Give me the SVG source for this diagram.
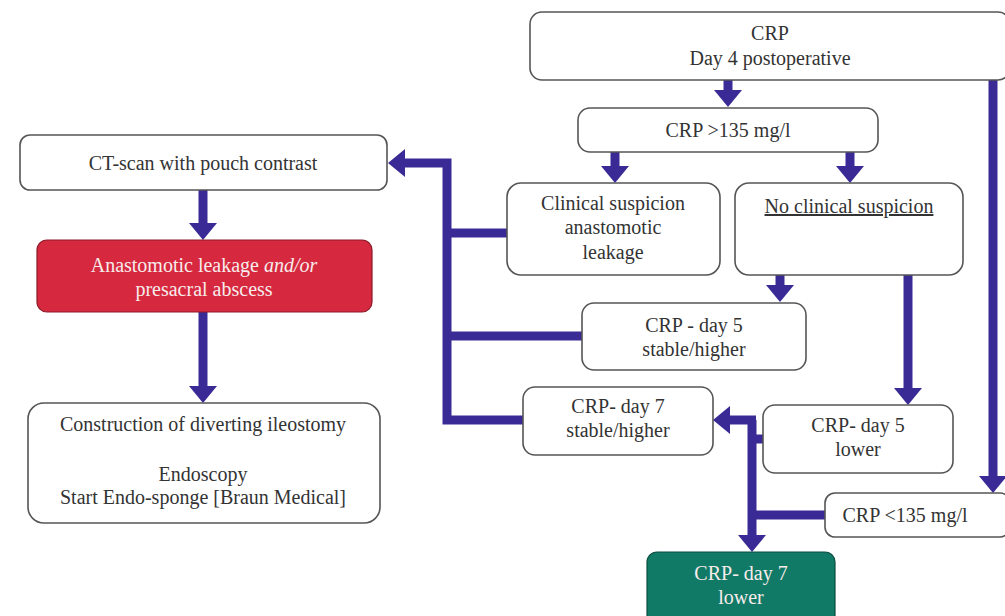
<svg xmlns="http://www.w3.org/2000/svg" width="1005" height="616" viewBox="0 0 1005 616">
<style>
.box{fill:#fff;stroke:#555;stroke-width:1.6}
.red{fill:#d6283e;stroke:#8a1a28;stroke-width:1.2}
.green{fill:#117a66;stroke:#0b4f42;stroke-width:1.2}
.t{font-size:20px;fill:#333;text-anchor:middle}
.w{fill:#f7ecec}
.c{fill:none;stroke:#3a2a96;stroke-width:9}
</style>
<defs>
<marker id="ah" viewBox="0 0 17 28" refX="0" refY="14" markerWidth="17" markerHeight="28" orient="auto" markerUnits="userSpaceOnUse">
<path d="M0 0 L17 14 L0 28 Z" fill="#3a2a96"/>
</marker>
</defs>
<rect width="1005" height="616" fill="#fff"/>
<g id="connectors">
<path class="c" d="M728 80 V90" marker-end="url(#ah)"/>
<path class="c" d="M615 152 V166" marker-end="url(#ah)"/>
<path class="c" d="M850 152 V166" marker-end="url(#ah)"/>
<path class="c" d="M993 80 V476" marker-end="url(#ah)"/>
<path class="c" d="M780 275 V285" marker-end="url(#ah)"/>
<path class="c" d="M908 275 V388" marker-end="url(#ah)"/>
<path class="c" d="M524 420 H447 V163 H405" marker-end="url(#ah)"/>
<path class="c" d="M507 233 H447"/>
<path class="c" d="M582 336 H447"/>
<path class="c" d="M203 190 V223" marker-end="url(#ah)"/>
<path class="c" d="M203 312 V386" marker-end="url(#ah)"/>
<path class="c" d="M763 439 H752"/>
<path class="c" d="M752 420 V535" marker-end="url(#ah)"/>
<path class="c" d="M756 420 H730" marker-end="url(#ah)"/>
<path class="c" d="M825 515 H752"/>
</g>
<g font-family="Liberation Serif, Times New Roman, serif">
<g id="n-day4">
<rect class="box" x="530" y="12" width="480" height="68" rx="12"/>
<text class="t" x="770" y="40">CRP</text>
<text class="t" x="770" y="65">Day 4 postoperative</text>
</g>
<g id="n-crp-high">
<rect class="box" x="578" y="108" width="300" height="44" rx="12"/>
<text class="t" x="728" y="137">CRP &gt;135 mg/l</text>
</g>
<g id="n-clinical">
<rect class="box" x="507" y="183" width="213" height="92" rx="14"/>
<text class="t" x="613" y="210">Clinical suspicion</text>
<text class="t" x="613" y="234">anastomotic</text>
<text class="t" x="613" y="259">leakage</text>
</g>
<g id="n-noclinical">
<rect class="box" x="735" y="183" width="228" height="92" rx="14"/>
<text class="t" x="849" y="213" text-decoration="underline">No clinical suspicion</text>
</g>
<g id="n-ct">
<rect class="box" x="20" y="135" width="367" height="55" rx="10"/>
<text class="t" x="203" y="170">CT-scan with pouch contrast</text>
</g>
<g id="n-leak">
<rect class="red" x="37" y="240" width="335" height="72" rx="10"/>
<text class="t w" x="204" y="272">Anastomotic leakage <tspan font-style="italic">and/or</tspan></text>
<text class="t w" x="204" y="296">presacral abscess</text>
</g>
<g id="n-construction">
<rect class="box" x="28" y="403" width="352" height="120" rx="16"/>
<text class="t" x="203" y="431">Construction of diverting ileostomy</text>
<text class="t" x="203" y="481">Endoscopy</text>
<text class="t" x="203" y="504">Start Endo-sponge [Braun Medical]</text>
</g>
<g id="n-day5-stable">
<rect class="box" x="582" y="303" width="224" height="67" rx="12"/>
<text class="t" x="694" y="332">CRP - day 5</text>
<text class="t" x="694" y="356">stable/higher</text>
</g>
<g id="n-day7-stable">
<rect class="box" x="523" y="387" width="190" height="68" rx="12"/>
<text class="t" x="618" y="413">CRP- day 7</text>
<text class="t" x="618" y="437">stable/higher</text>
</g>
<g id="n-day5-lower">
<rect class="box" x="763" y="405" width="190" height="68" rx="12"/>
<text class="t" x="858" y="432">CRP- day 5</text>
<text class="t" x="858" y="456">lower</text>
</g>
<g id="n-crp-low">
<rect class="box" x="825" y="493" width="185" height="44" rx="10"/>
<text class="t" x="905" y="522">CRP &lt;135 mg/l</text>
</g>
<g id="n-day7-lower">
<rect class="green" x="647" y="552" width="188" height="80" rx="10"/>
<text class="t w" x="741" y="580">CRP- day 7</text>
<text class="t w" x="741" y="604">lower</text>
</g>
</g>
</svg>
